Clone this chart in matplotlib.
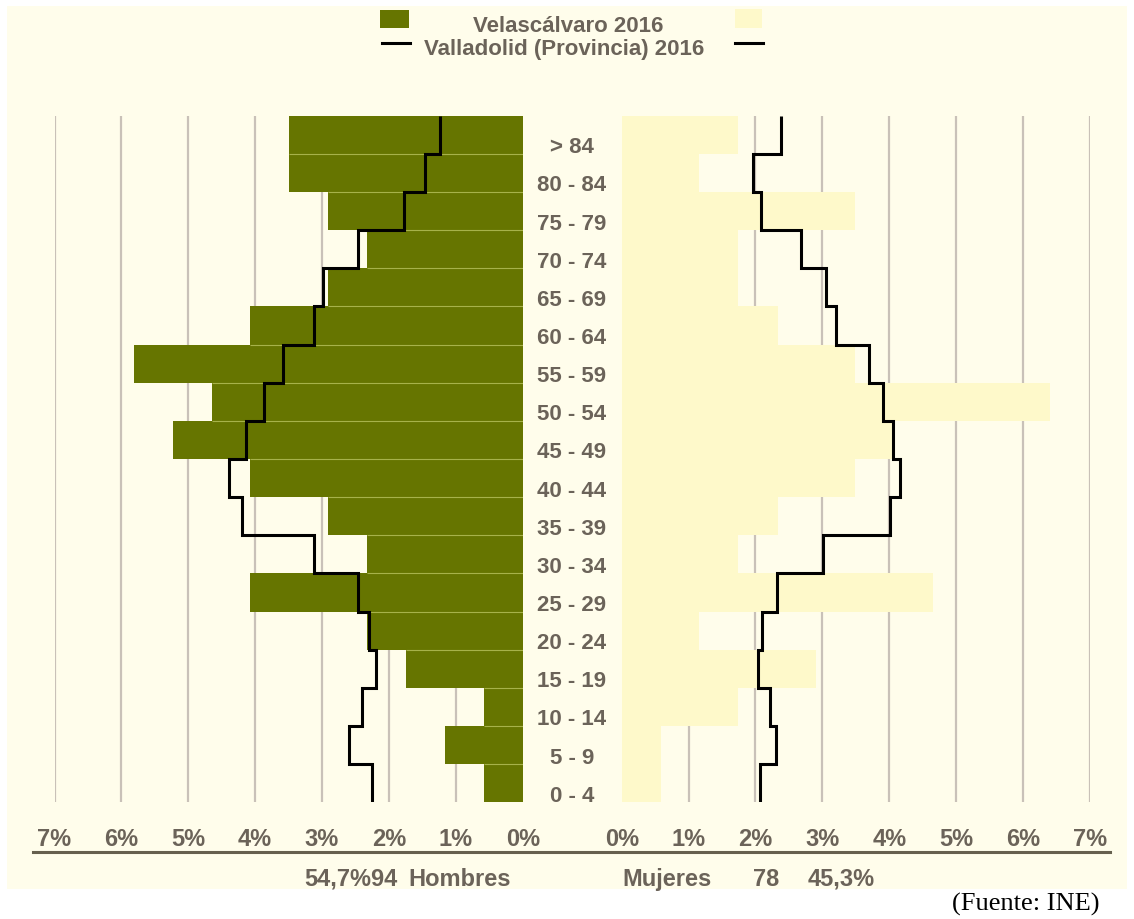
import numpy as np
import matplotlib
matplotlib.use('Agg')
import matplotlib.pyplot as plt
from matplotlib.patches import Rectangle
from matplotlib.lines import Line2D
import matplotlib.transforms as mtransforms

# ---------------- data (bottom -> top) ----------------
age_groups = ['0 - 4', '5 - 9', '10 - 14', '15 - 19', '20 - 24', '25 - 29',
              '30 - 34', '35 - 39', '40 - 44', '45 - 49', '50 - 54', '55 - 59',
              '60 - 64', '65 - 69', '70 - 74', '75 - 79', '80 - 84', '> 84']

# Velascálvaro 2016 (% of total population)
men_pct = [0.58, 1.16, 0.58, 1.74, 2.33, 4.07, 2.33, 2.91, 4.07, 5.23,
           4.65, 5.81, 4.07, 2.91, 2.33, 2.91, 3.49, 3.49]
women_pct = [0.58, 0.58, 1.74, 2.91, 1.16, 4.65, 1.74, 2.33, 3.49, 4.07,
             6.40, 3.49, 2.33, 1.74, 1.74, 3.49, 1.16, 1.74]

# Valladolid (Provincia) 2016
prov_men_pct = [2.25, 2.59, 2.41, 2.19, 2.30, 2.46, 3.12, 4.20, 4.39, 4.13,
                3.87, 3.58, 3.12, 2.98, 2.46, 1.78, 1.46, 1.23]
prov_women_pct = [2.06, 2.31, 2.21, 2.03, 2.09, 2.32, 3.01, 4.01, 4.16, 4.06,
                  3.90, 3.70, 3.21, 3.06, 2.68, 2.08, 1.97, 2.38]

tick_values = [0, 1, 2, 3, 4, 5, 6, 7]
tick_labels = ['0%', '1%', '2%', '3%', '4%', '5%', '6%', '7%']

legend_bars = 'Velascálvaro 2016'
legend_line = 'Valladolid (Provincia) 2016'
men_total_label = '54,7%94'
women_count_label = '78'
women_pct_label = '45,3%'
source = '(Fuente: INE)'

# ---------------- style ----------------
CREAM = '#FFFDEB'
GREEN = '#667500'
LIGHT = '#FEF9CA'
SEP = '#A7B24A'
GRID = '#C9C1B8'
TEXT = '#6B6359'
AXLINE = '#66604E'
FONT = 'Liberation Sans'

W, H = 1134, 920
fig = plt.figure(figsize=(W / 100, H / 100), dpi=100)
fig.patch.set_facecolor('white')


def fx(x):
    return x / W


def fy(y):
    return 1 - y / H


# cream panel
fig.add_artist(Rectangle((fx(7), fy(890)), (1127 - 7) / W, (890 - 7) / H,
                         transform=fig.transFigure, facecolor=CREAM,
                         edgecolor='none', zorder=0))

top_px, bot_px = 116.7, 803.3
axL = fig.add_axes([fx(54.5), fy(bot_px), (522.7 - 54.5) / W, (bot_px - top_px) / H])
axR = fig.add_axes([fx(621.7), fy(bot_px), (1090 - 621.7) / W, (bot_px - top_px) / H])

n = len(age_groups)
y = np.arange(n)
edges = np.arange(n + 1)

for ax in (axL, axR):
    ax.set_facecolor('none')
    ax.set_ylim(0, n)
    for s in ax.spines.values():
        s.set_visible(False)
    ax.set_xticks(tick_values)
    ax.set_xticklabels([])
    ax.set_yticks([])
    ax.tick_params(length=0)
    ax.grid(axis='x', color=GRID, linewidth=1.6)
    ax.set_axisbelow(True)

axL.set_xlim(7, 0)
axR.set_xlim(0, 7)

axL.barh(y, men_pct, height=1, align='edge', color=GREEN, zorder=2)
axR.barh(y, women_pct, height=1, align='edge', color=LIGHT, zorder=2)

# thin light separators between male bars
for i in range(1, n):
    axL.hlines(i, 0, min(men_pct[i - 1], men_pct[i]), color=SEP, lw=0.8, zorder=3)

axL.stairs(prov_men_pct, edges, orientation='horizontal', baseline=None,
           color='black', lw=2.2, zorder=4)
axR.stairs(prov_women_pct, edges, orientation='horizontal', baseline=None,
           color='black', lw=2.2, zorder=4)

# x tick labels
for ax in (axL, axR):
    tr = mtransforms.blended_transform_factory(ax.transData, fig.transFigure)
    for v, lab in zip(tick_values, tick_labels):
        ax.text(v, fy(845.5), lab, transform=tr, ha='center', va='baseline',
                fontsize=17, fontweight='bold', color=TEXT, family=FONT)

# age labels
trA = mtransforms.blended_transform_factory(fig.transFigure, axL.transData)
for i, lab in enumerate(age_groups):
    fig.text(fx(572), i + 0.04, lab, transform=trA, ha='center', va='baseline',
             fontsize=16, fontweight='bold', color=TEXT, family=FONT)

# bottom axis line
fig.add_artist(Line2D([fx(33), fx(1110)], [fy(852.7), fy(852.7)],
                      transform=fig.transFigure, color=AXLINE, lw=2.2))

# bottom labels
for xc, lab in [(351, men_total_label), (460, 'Hombres'), (667, 'Mujeres'),
                (766.5, women_count_label), (841.5, women_pct_label)]:
    fig.text(fx(xc), fy(886), lab, ha='center', va='baseline', fontsize=17,
             fontweight='bold', color=TEXT, family=FONT)

# legend
fig.add_artist(Rectangle((fx(380), fy(29)), 29 / W, 18.5 / H, transform=fig.transFigure,
                         facecolor=GREEN, edgecolor='none'))
fig.add_artist(Rectangle((fx(735), fy(28.5)), 27 / W, 18.5 / H, transform=fig.transFigure,
                         facecolor=LIGHT, edgecolor='none'))
for x0, x1 in [(382, 410), (735, 763)]:
    fig.add_artist(Line2D([fx(x0), fx(x1)], [fy(44), fy(44)], transform=fig.transFigure,
                          color='black', lw=2.2))
fig.text(fx(568.5), fy(31.5), legend_bars, ha='center', va='baseline', fontsize=16,
         fontweight='bold', color=TEXT, family=FONT)
fig.text(fx(564.5), fy(55), legend_line, ha='center', va='baseline', fontsize=16,
         fontweight='bold', color=TEXT, family=FONT)

# source
fig.text(fx(1100), fy(911), source, ha='right', va='baseline', fontsize=19,
         color='black', family='Liberation Serif')

fig.savefig('out.png', dpi=100, facecolor='white')
